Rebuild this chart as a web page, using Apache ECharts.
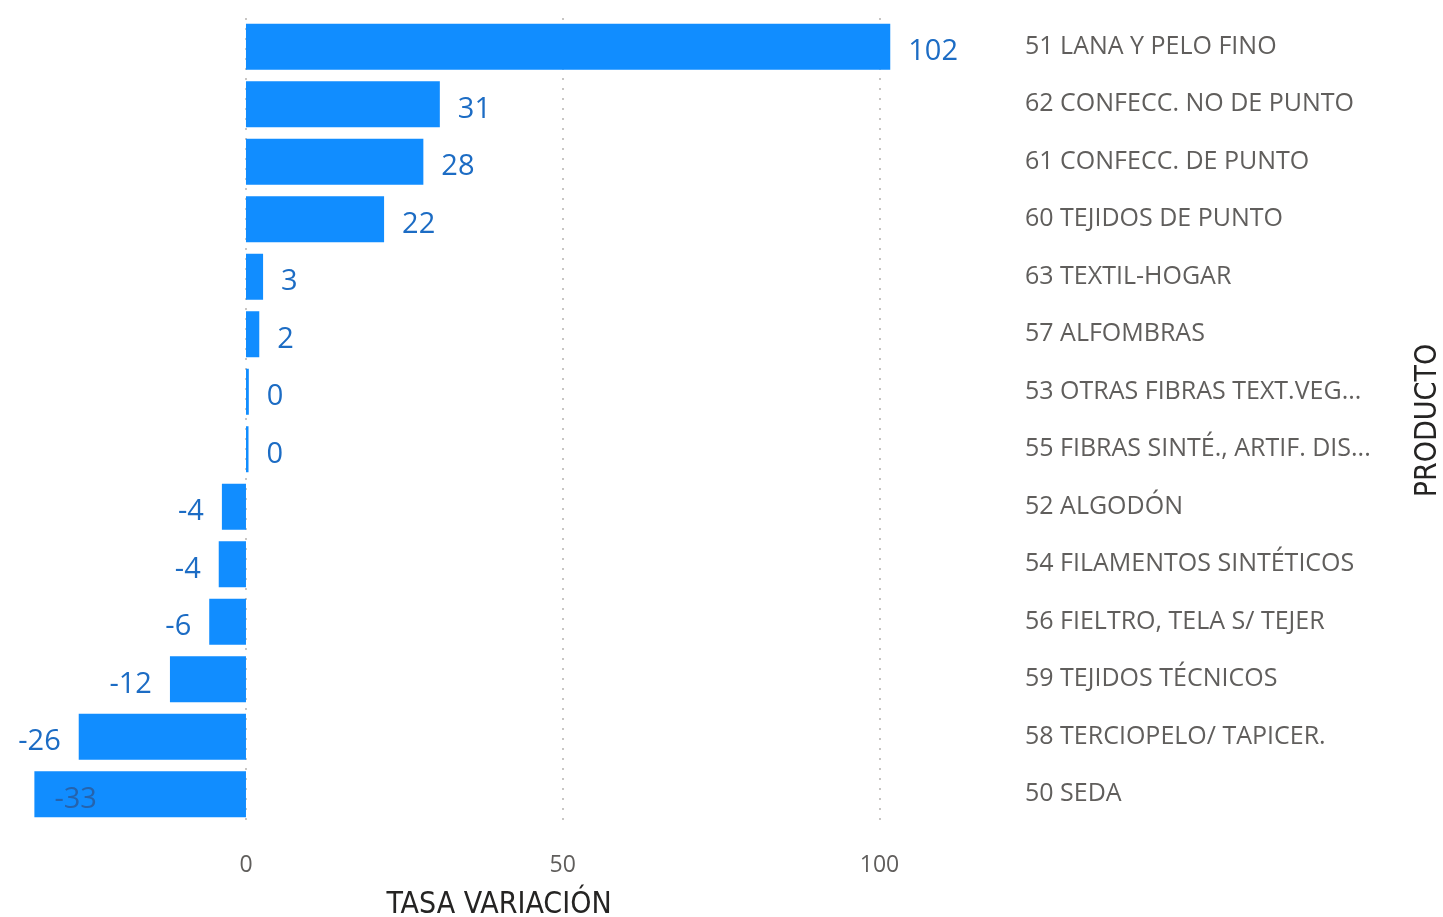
<!DOCTYPE html>
<html><head><meta charset="utf-8">
<script src="https://cdn.jsdelivr.net/npm/echarts@6/dist/echarts.min.js"></script>
<style>html,body{margin:0;padding:0;background:#fff}#c{width:1443px;height:917px}</style>
</head><body><div id="c"></div>
<script>
const categories = ["51 LANA Y PELO FINO","62 CONFECC. NO DE PUNTO","61 CONFECC. DE PUNTO","60 TEJIDOS DE PUNTO","63 TEXTIL-HOGAR","57 ALFOMBRAS","53 OTRAS FIBRAS TEXT.VEG...","55 FIBRAS SINTÉ., ARTIF. DIS...","52 ALGODÓN","54 FILAMENTOS SINTÉTICOS","56 FIELTRO, TELA S/ TEJER","59 TEJIDOS TÉCNICOS","58 TERCIOPELO/ TAPICER.","50 SEDA"];
const values = [101.7, 30.6, 28.0, 21.8, 2.7, 2.1, 0.45, 0.4, -3.8, -4.3, -5.8, -12.0, -26.4, -33.4];
const xTicks = [0, 50, 100];

const font = "'Segoe UI','Open Sans','Noto Sans',sans-serif";
const condFont = "'DejaVu Sans Condensed','Liberation Sans Narrow','DejaVu Sans',sans-serif";
const labelColor = '#1c6cc4';

const data = values.map((v, i) => {
  const d = {value: v};
  if (i === values.length - 1) {
    d.label = {position: 'insideLeft', color: '#2563ad', offset: [2, 5]};
  } else if (v < 0) {
    d.label = {position: 'left'};
  }
  return d;
});

const chart = echarts.init(document.getElementById('c'));
chart.setOption({
  animation: false,
  grid: {left: 34, right: 437, top: 18, height: 805, outerBoundsMode: 'none', containLabel: false},
  xAxis: {
    type: 'value', min: -33.46, max: 119.97,
    axisLine: {show: false}, axisTick: {show: false, customValues: xTicks},
    axisLabel: {customValues: xTicks, color: '#605E5C', fontSize: 23, fontFamily: font, margin: 31},
    splitLine: {show: false},
    name: 'TASA VARIACIÓN', nameLocation: 'middle', nameGap: 67,
    nameTextStyle: {color: '#252423', fontSize: 30, fontFamily: condFont, padding: [0, 42, 0, 0]}
  },
  yAxis: {
    type: 'category', data: categories, inverse: true, position: 'right',
    axisLine: {show: false}, axisTick: {show: false},
    axisLabel: {color: '#605E5C', fontSize: 25, fontFamily: font, margin: 19, align: 'left', padding: [6, 0, 0, 0]},
    name: 'PRODUCTO', nameLocation: 'middle', nameRotate: 90, nameGap: 407,
    nameTextStyle: {color: '#252423', fontSize: 30, fontFamily: condFont}
  },
  series: [{
    type: 'bar', data: data, barCategoryGap: '20%', z: 3,
    itemStyle: {color: '#118DFF'},
    label: {show: true, position: 'right', distance: 18, color: labelColor, fontSize: 29, fontFamily: font,
      offset: [0, 5], formatter: p => Math.round(p.value)},
    markLine: {
      silent: true, symbol: 'none', label: {show: false}, z: 1,
      lineStyle: {color: '#C8C6C4', type: [2, 8], width: 2},
      data: xTicks.map(t => ({xAxis: t}))
    }
  }]
});
</script></body></html>
